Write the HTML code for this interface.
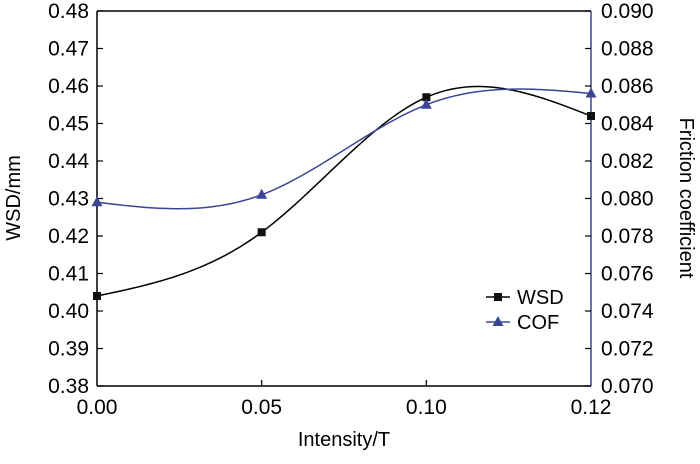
<!DOCTYPE html>
<html><head><meta charset="utf-8"><style>
body{margin:0;background:#fff;}
svg text{font-family:"Liberation Sans",Arial,sans-serif;}
</style></head><body>
<svg id="chart" width="700" height="459" viewBox="0 0 700 459"></svg>
<script>
const categories=["0.00","0.05","0.10","0.12"];
const wsdValues=[0.404,0.421,0.457,0.452];
const cofValues=[0.0798,0.0802,0.0850,0.0856];
const leftTicks=[0.38,0.39,0.40,0.41,0.42,0.43,0.44,0.45,0.46,0.47,0.48];
const rightTicks=[0.070,0.072,0.074,0.076,0.078,0.080,0.082,0.084,0.086,0.088,0.090];

const L=97,R=591,T=11,B=386,BLUE="#3b4596";
const svg=document.getElementById('chart');
const NS="http://www.w3.org/2000/svg";
function mk(tag,attrs,parent){const e=document.createElementNS(NS,tag);for(const k in attrs)e.setAttribute(k,attrs[k]);(parent||svg).appendChild(e);return e;}
const xs=i=>L+(R-L)*i/(categories.length-1);
const yL=v=>B-(v-0.38)/(0.10)*(B-T);
const yR=v=>B-(v-0.070)/(0.020)*(B-T);

function spline(px,py){
  const n=px.length,h=[],m=new Array(n).fill(0);
  for(let i=0;i<n-1;i++)h.push(px[i+1]-px[i]);
  const lw=[1],mu=[0],z=[0];
  for(let i=1;i<n-1;i++){
    const r=3/h[i]*(py[i+1]-py[i])-3/h[i-1]*(py[i]-py[i-1]);
    lw[i]=2*(px[i+1]-px[i-1])-h[i-1]*mu[i-1];mu[i]=h[i]/lw[i];z[i]=(r-h[i-1]*z[i-1])/lw[i];
  }
  const c=new Array(n).fill(0),b=[],d=[];
  for(let j=n-2;j>=0;j--){c[j]=z[j]-mu[j]*c[j+1];b[j]=(py[j+1]-py[j])/h[j]-h[j]*(c[j+1]+2*c[j])/3;d[j]=(c[j+1]-c[j])/(3*h[j]);}
  let s="";
  for(let j=0;j<n-1;j++)for(let k=0;k<=40;k++){const t=h[j]*k/40;const y=py[j]+b[j]*t+c[j]*t*t+d[j]*t*t*t;s+=(s?"L":"M")+(px[j]+t).toFixed(2)+","+y.toFixed(2);}
  return s;
}

let e=mk('line',{x1:L,y1:T,x2:R,y2:T,stroke:'#000','stroke-width':1.5});

e=mk('line',{x1:L,y1:T,x2:L,y2:B,stroke:'#000','stroke-width':1.5});

e=mk('line',{x1:L,y1:B,x2:R,y2:B,stroke:'#000','stroke-width':1.5});

e=mk('line',{x1:R,y1:T,x2:R,y2:B,stroke:BLUE,'stroke-width':1.5});


leftTicks.forEach(v=>{const y=yL(v);
 e=mk('line',{x1:L,y1:y,x2:L+6,y2:y,stroke:'#000','stroke-width':1.2});
 
 e=mk('text',{x:L-8,y:y+7,'text-anchor':'end','font-size':21,fill:'#000'});e.textContent=v.toFixed(2);
 });
rightTicks.forEach(v=>{const y=yR(v);
 e=mk('line',{x1:R-6,y1:y,x2:R,y2:y,stroke:'#000','stroke-width':1.2});
 
 e=mk('text',{x:R+10,y:y+7,'font-size':21,fill:'#000'});e.textContent=v.toFixed(3);
 });
categories.forEach((c,i)=>{const x=xs(i);
 if(i>0&&i<categories.length-1){e=mk('line',{x1:x,y1:B,x2:x,y2:B-6,stroke:'#000','stroke-width':1.2});
 }
 e=mk('text',{x:x,y:B+28,'text-anchor':'middle','font-size':21,fill:'#000'});e.textContent=c;
 });

e=mk('text',{x:(L+R)/2,y:446,'text-anchor':'middle','font-size':20,fill:'#000'});e.textContent='Intensity/T';

e=mk('text',{x:0,y:0,'text-anchor':'middle','font-size':20,fill:'#000',transform:'translate(20,198) rotate(-90)'});e.textContent='WSD/mm';

e=mk('text',{x:0,y:0,'text-anchor':'middle','font-size':20,fill:'#000',transform:'translate(680,198) rotate(90)'});e.textContent='Friction coefficient';


const px=categories.map((c,i)=>xs(i));
e=mk('path',{d:spline(px,wsdValues.map(yL)),fill:'none',stroke:'#000','stroke-width':1.5});

e=mk('path',{d:spline(px,cofValues.map(yR)),fill:'none',stroke:BLUE,'stroke-width':1.5});

wsdValues.forEach((v,i)=>{const x=xs(i),y=yL(v);
 e=mk('rect',{x:x-4,y:y-4,width:8,height:8,fill:'#111'});
 });
cofValues.forEach((v,i)=>{const x=xs(i),y=yR(v);
 e=mk('polygon',{points:`${x},${y-6} ${x-5.5},${y+4} ${x+5.5},${y+4}`,fill:BLUE});
 });

e=mk('line',{x1:486,y1:297,x2:510,y2:297,stroke:'#000','stroke-width':1.5});

e=mk('rect',{x:494,y:293,width:8,height:8,fill:'#111'});

e=mk('text',{x:517,y:304,'font-size':20,fill:'#000'});e.textContent='WSD';

e=mk('line',{x1:486,y1:322,x2:510,y2:322,stroke:BLUE,'stroke-width':1.5});

e=mk('polygon',{points:'498,316 492.5,326 503.5,326',fill:BLUE});

e=mk('text',{x:517,y:329,'font-size':20,fill:'#000'});e.textContent='COF';

</script>
</body></html>
